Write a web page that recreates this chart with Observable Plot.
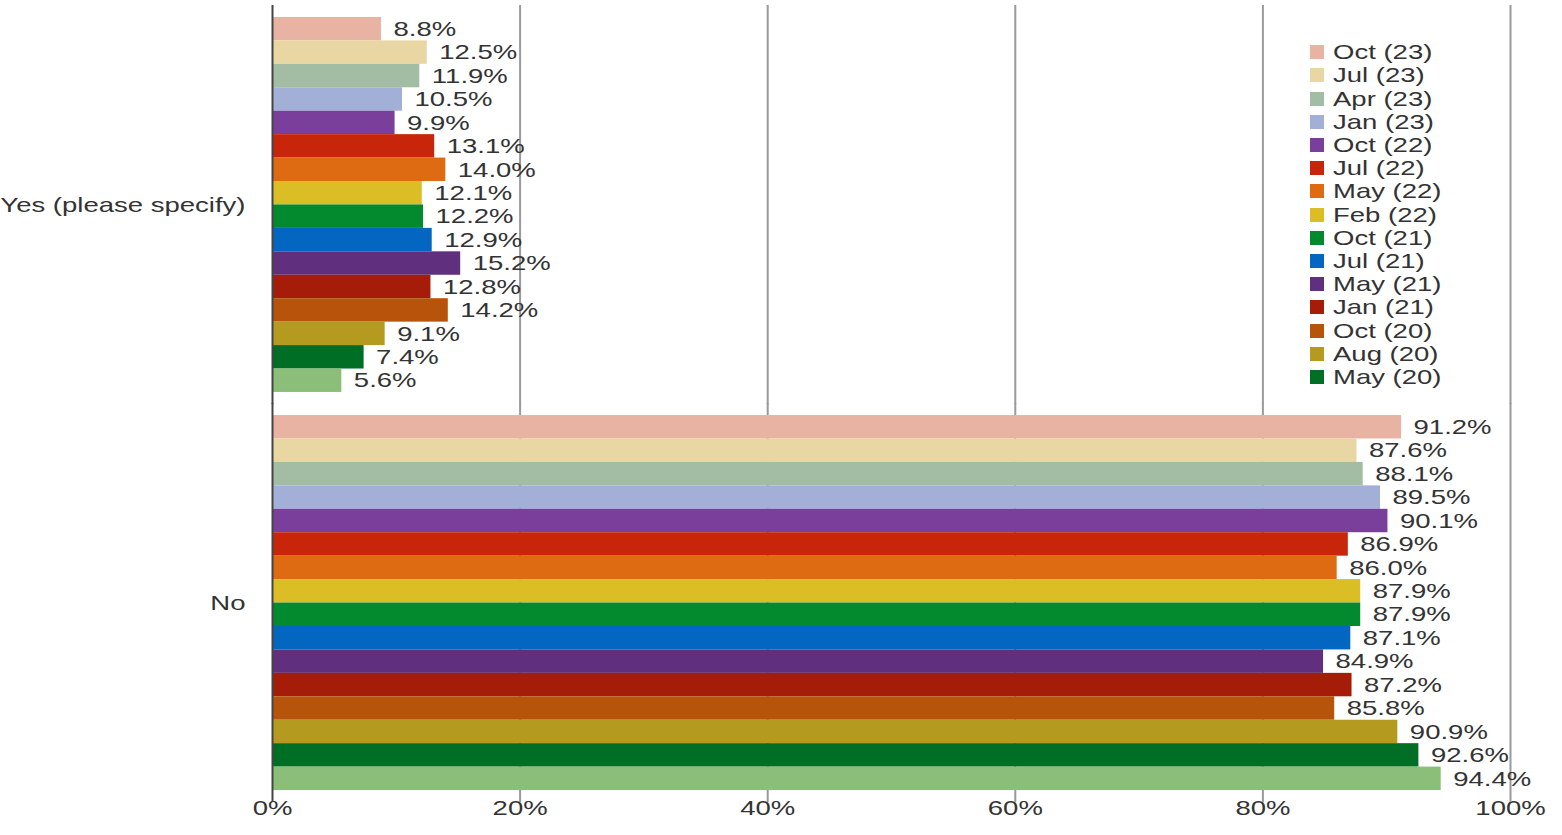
<!DOCTYPE html>
<html><head><meta charset="utf-8">
<script src="https://cdn.jsdelivr.net/npm/d3@7"></script>
<script src="https://cdn.jsdelivr.net/npm/@observablehq/plot@0.6"></script>
<style>
body{margin:0;background:#fff;font-family:"Liberation Sans",Arial,sans-serif;}
#wrap{position:relative;width:1562px;}
#legend{position:absolute;left:1310px;top:40.7px;}
.row{height:23.2px;display:flex;align-items:center;font-size:21px;color:#333;white-space:nowrap}
.sw{width:14px;height:14px;margin-right:9px;flex:none}
.lab{display:inline-block;transform:scaleX(1.31);transform-origin:left center}
</style></head><body><div id="wrap"><div id="legend"></div></div>
<script>
const categories = ["Yes (please specify)", "No"];
const waves = ["Oct (23)", "Jul (23)", "Apr (23)", "Jan (23)", "Oct (22)", "Jul (22)", "May (22)", "Feb (22)", "Oct (21)", "Jul (21)", "May (21)", "Jan (21)", "Oct (20)", "Aug (20)", "May (20)", "(unlabelled)"];
const legendWaves = waves.slice(0, 15);
const yesValues = [8.8, 12.5, 11.9, 10.5, 9.9, 13.1, 14.0, 12.1, 12.2, 12.9, 15.2, 12.8, 14.2, 9.1, 7.4, 5.6];
const noValues = [91.2, 87.6, 88.1, 89.5, 90.1, 86.9, 86.0, 87.9, 87.9, 87.1, 84.9, 87.2, 85.8, 90.9, 92.6, 94.4];
const colors = ["#E9B3A3", "#E8D7A3", "#A2BDA4", "#A2B0D8", "#7A3E9B", "#C8260A", "#DE6A12", "#DBBE26", "#03892E", "#0366C1", "#60307F", "#A51D08", "#B6540C", "#B49A1E", "#006E25", "#8BBE78"];
const xTicks = [0, 20, 40, 60, 80, 100];

const data = [];
categories.forEach((c, ci) => waves.forEach((w, wi) => data.push({category: c, wave: w, value: (ci === 0 ? yesValues : noValues)[wi]})));

const chart = Plot.plot({
  width: 1562, height: 835,
  marginLeft: 272, marginRight: 52, marginTop: 7, marginBottom: 35,
  style: {fontFamily: "'Liberation Sans', Arial, sans-serif", fontSize: "21px", color: "#333", background: "#fff"},
  x: {domain: [0, 100], ticks: xTicks, tickFormat: d => d + "%", tickSize: 0, tickPadding: 10, label: null},
  y: {domain: waves, axis: null, padding: 0, round: false},
  fy: {domain: categories, axis: "left", paddingInner: 0.058, paddingOuter: 0.025, round: false, label: null, tickSize: 0, tickPadding: 27},
  color: {domain: waves, range: colors},
  marks: [
    Plot.ruleX(xTicks.filter(d => d > 0), {stroke: "#9a9a9a", strokeWidth: 2, insetTop: -12, insetBottom: -12}),
    Plot.barX(data, {fy: "category", y: "wave", x: "value", fill: "wave"}),
    Plot.text(data, {fy: "category", y: "wave", x: "value", text: d => d.value.toFixed(1) + "%", textAnchor: "start", dx: 12, fill: "#333"}),
    Plot.ruleX([0], {stroke: "#444", strokeWidth: 2, insetTop: -12, insetBottom: -12})
  ]
});
document.getElementById("wrap").prepend(chart);
const STRETCH = 1.31;
chart.querySelectorAll("text").forEach(t => {
  const L = t.getComputedTextLength();
  if (L > 0) { t.setAttribute("textLength", L * STRETCH); t.setAttribute("lengthAdjust", "spacingAndGlyphs"); }
});
const legend = document.getElementById("legend");
legendWaves.forEach((w) => {
  const row = document.createElement("div"); row.className = "row";
  const sw = document.createElement("span"); sw.className = "sw"; sw.style.background = colors[waves.indexOf(w)];
  const lab = document.createElement("span"); lab.className = "lab"; lab.textContent = w;
  row.append(sw, lab); legend.append(row);
});
</script></body></html>
